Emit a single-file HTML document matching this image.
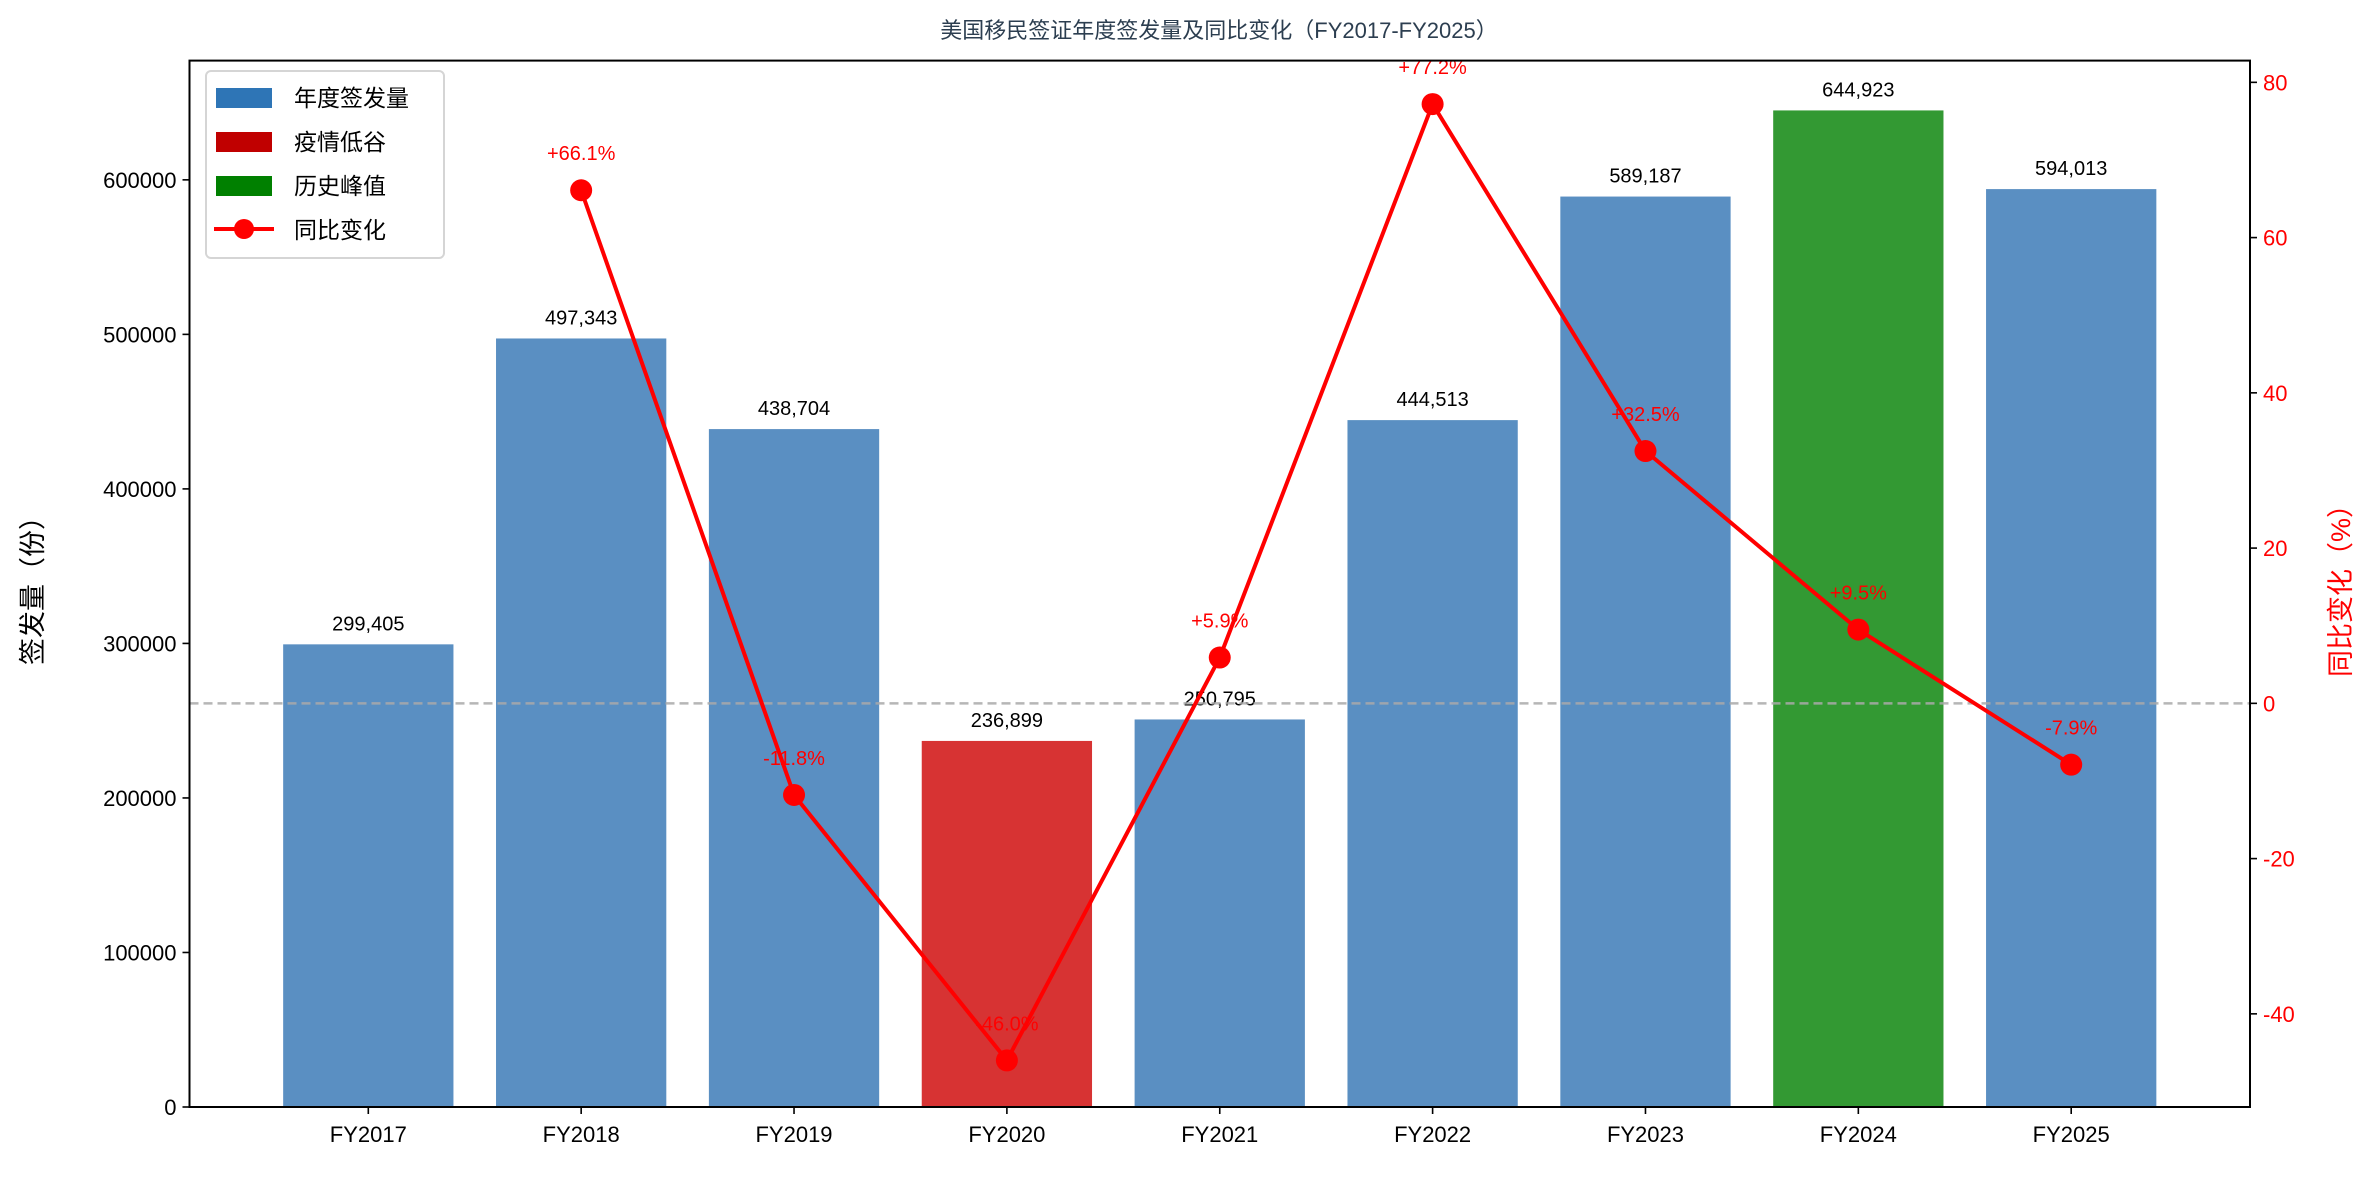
<!DOCTYPE html>
<html><head><meta charset="utf-8">
<style>
html,body{margin:0;padding:0;background:#fff;}
svg text{font-family:"Liberation Sans","Noto Sans CJK SC",sans-serif;}
</style></head>
<body>
<svg id="chart" xmlns="http://www.w3.org/2000/svg" width="2377" height="1177" viewBox="0 0 2377 1177">
<rect width="2377" height="1177" fill="#fff"/>
<g id="plot"></g>
</svg>
<script>
const categories = ["FY2017","FY2018","FY2019","FY2020","FY2021","FY2022","FY2023","FY2024","FY2025"];
const issued = [299405,497343,438704,236899,250795,444513,589187,644923,594013];
const yoy = [null,66.1,-11.8,-46.0,5.9,77.2,32.5,9.5,-7.9];
const barKinds = ["normal","normal","normal","low","normal","normal","normal","peak","normal"];
const leftTicks = [0,100000,200000,300000,400000,500000,600000];
const rightTicks = [-40,-20,0,20,40,60,80];

const L=189.5,R=2250,T=60.6,B=1107;
const xmin=-0.84,xmax=8.84;
const ymax=Math.max(...issued)*1.05;
const rmin=-52.0,rmax=82.8;
const xs=i=>L+(i-xmin)/(xmax-xmin)*(R-L);
const yl=v=>B-v/ymax*(B-T);
const yr=v=>B-(v-rmin)/(rmax-rmin)*(B-T);
const NS="http://www.w3.org/2000/svg";
const g=document.getElementById('plot');
function mk(tag,attrs,parent){const e=document.createElementNS(NS,tag);for(const k in attrs)e.setAttribute(k,attrs[k]);(parent||g).appendChild(e);return e;}
const colors={normal:"#5a8fc2",low:"#d73333",peak:"#339933"};
const bw=(R-L)/(xmax-xmin)*0.8;

// bars
categories.forEach((c,i)=>{
  const b=mk('rect',{x:xs(i)-bw/2,y:yl(issued[i]),width:bw,height:B-yl(issued[i]),fill:colors[barKinds[i]]});
  
  
});
// bar labels
categories.forEach((c,i)=>{
  const t=mk('text',{x:xs(i),y:yl(issued[i])-14,'text-anchor':'middle','font-size':'20',fill:'#000'});
  t.textContent=issued[i].toLocaleString('en-US');
  
  
});
// zero dashed line
const zl=mk('line',{x1:L,x2:R,y1:yr(0),y2:yr(0),stroke:'#aaa','stroke-width':2.5,'stroke-dasharray':'9,5',opacity:0.85});


// yoy line
let pts=[];yoy.forEach((v,i)=>{if(v!==null)pts.push([xs(i),yr(v)]);});
const pl=mk('polyline',{points:pts.map(p=>p.join(',')).join(' '),fill:'none',stroke:'#ff0000','stroke-width':4,'stroke-linejoin':'round'});


yoy.forEach((v,i)=>{
  if(v===null)return;
  const c=mk('circle',{cx:xs(i),cy:yr(v),r:11,fill:'#ff0000'});
  
  
  const t=mk('text',{x:xs(i),y:yr(v)-30,'text-anchor':'middle','font-size':'20',fill:'#ff0000'});
  t.textContent=(v>0?'+':'')+v.toFixed(1)+'%';
  
  
});
// axes frame
const fr=mk('rect',{x:L,y:T,width:R-L,height:B-T,fill:'none',stroke:'#000','stroke-width':2});


// left ticks
leftTicks.forEach(v=>{
  mk('line',{x1:L-7,x2:L,y1:yl(v),y2:yl(v),stroke:'#000','stroke-width':1.6});
  const t=mk('text',{x:L-13,y:yl(v)+8,'text-anchor':'end','font-size':'22',fill:'#000'});
  t.textContent=String(v);
  
  
});
// right ticks
rightTicks.forEach(v=>{
  mk('line',{x1:R,x2:R+7,y1:yr(v),y2:yr(v),stroke:'#000','stroke-width':1.6});
  const t=mk('text',{x:R+13,y:yr(v)+8,'text-anchor':'start','font-size':'22',fill:'#ff0000'});
  t.textContent=String(v);
  
  
});
// x ticks
categories.forEach((c,i)=>{
  mk('line',{x1:xs(i),x2:xs(i),y1:B,y2:B+7,stroke:'#000','stroke-width':1.6});
  const t=mk('text',{x:xs(i),y:B+35,'text-anchor':'middle','font-size':'22',fill:'#000'});
  t.textContent=c;
  
  
});
</script>
<svg style="position:absolute;left:0;top:0" width="2377" height="1177" xmlns="http://www.w3.org/2000/svg">
<text x="1219" y="38" text-anchor="middle" font-size="22" fill="#2c3e50" font-family="Liberation Sans, Noto Sans CJK SC, sans-serif">美国移民签证年度签发量及同比变化（FY2017-FY2025）</text>
<text transform="translate(42,584) rotate(-90)" text-anchor="middle" font-size="27" fill="#000" font-family="Liberation Sans, Noto Sans CJK SC, sans-serif">签发量（份）</text>
<text transform="translate(2350,584) rotate(-90)" text-anchor="middle" font-size="27" fill="#ff0000" font-family="Liberation Sans, Noto Sans CJK SC, sans-serif">同比变化（%）</text>
<g font-family="Liberation Sans, Noto Sans CJK SC, sans-serif" font-size="23">
<rect x="206" y="71" width="238" height="187" rx="5" fill="#fff" fill-opacity="0.85" stroke="#d5d5d5" stroke-width="2"/>
<rect x="216" y="88" width="56" height="20" fill="#2e75b6"/>
<text x="294" y="106">年度签发量</text>
<rect x="216" y="132" width="56" height="20" fill="#c00000"/>
<text x="294" y="150">疫情低谷</text>
<rect x="216" y="176" width="56" height="20" fill="#008000"/>
<text x="294" y="194">历史峰值</text>
<line x1="214" x2="274" y1="229" y2="229" stroke="#ff0000" stroke-width="4"/>
<circle cx="244" cy="229" r="10" fill="#ff0000"/>
<text x="294" y="238">同比变化</text>
</g>
</svg>
</body></html>
